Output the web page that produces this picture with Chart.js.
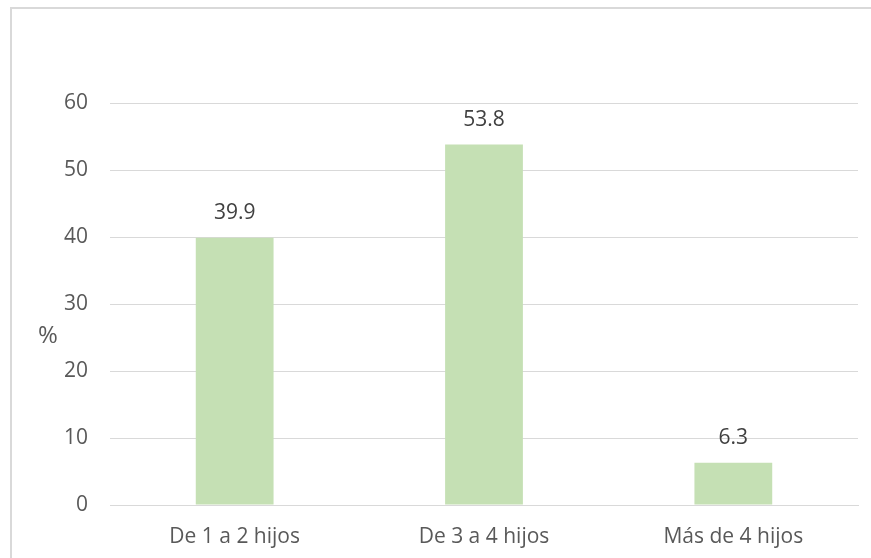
<!DOCTYPE html>
<html>
<head>
<meta charset="utf-8">
<script src="https://cdn.jsdelivr.net/npm/chart.js@4/dist/chart.umd.min.js"></script>
<style>
  html, body { margin: 0; padding: 0; background: #fff; }
  #wrap { position: relative; width: 871px; height: 558px; overflow: hidden; }
  #frame { position: absolute; left: 10px; top: 7px; width: 900px; height: 600px;
           border-left: 2px solid #d9d9d9; border-top: 2px solid #d9d9d9; box-sizing: border-box; }
  canvas { position: absolute; left: 0; top: 0; }
</style>
</head>
<body>
<div id="wrap">
  <div id="frame"></div>
  <canvas id="c" width="871" height="558"></canvas>
</div>
<script>
// Number of children per household, percentage of respondents
const categories = ['De 1 a 2 hijos', 'De 3 a 4 hijos', 'Más de 4 hijos'];
const percentages = [39.9, 53.8, 6.3];
const yTicks = [0, 10, 20, 30, 40, 50, 60];
const axisTitle = '%';

const FONT = '"Open Sans", "DejaVu Sans", sans-serif';

// Value labels above each bar plus the unrotated "%" axis title
const barLabels = {
  id: 'barLabels',
  afterDatasetsDraw(chart) {
    const ctx = chart.ctx;
    const meta = chart.getDatasetMeta(0);
    ctx.save();
    ctx.font = '21px ' + FONT;
    ctx.fillStyle = '#404040';
    ctx.textAlign = 'center';
    ctx.textBaseline = 'middle';
    meta.data.forEach((bar, i) => {
      ctx.fillText(percentages[i].toFixed(1), bar.x, bar.y - 25);
    });
    const area = chart.chartArea;
    ctx.font = '24px ' + FONT;
    ctx.fillStyle = '#595959';
    ctx.fillText(axisTitle, area.left - 62, (area.top + area.bottom) / 2 + 32);
    ctx.restore();
  }
};

new Chart(document.getElementById('c'), {
  type: 'bar',
  data: {
    labels: categories,
    datasets: [{
      data: percentages,
      backgroundColor: '#c5e0b4',
      borderWidth: 0,
      categoryPercentage: 1,
      barPercentage: 0.312
    }]
  },
  options: {
    responsive: false,
    animation: false,
    layout: { padding: { left: 10, top: 103, right: 13, bottom: 0 } },
    plugins: { legend: { display: false }, tooltip: { enabled: false } },
    scales: {
      x: {
        grid: { display: false, drawTicks: false },
        border: { display: true, color: '#d9d9d9', width: 1 },
        ticks: { color: '#595959', font: { family: FONT, size: 21 }, padding: 19, maxRotation: 0 },
        afterFit(s) { s.height = 53; }
      },
      y: {
        min: 0,
        max: 60,
        afterBuildTicks(s) { s.ticks = yTicks.map(v => ({ value: v })); },
        grid: { color: '#d9d9d9', lineWidth: 1, drawTicks: false },
        border: { display: false },
        ticks: { color: '#595959', font: { family: FONT, size: 21 }, padding: 22 },
        afterFit(s) { s.width = 100; }
      }
    }
  },
  plugins: [barLabels]
});
</script>
</body>
</html>
